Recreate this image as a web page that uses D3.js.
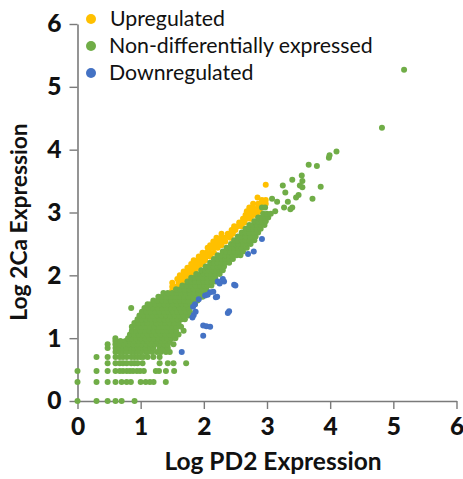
<!DOCTYPE html>
<html><head><meta charset="utf-8">
<script src="https://cdn.jsdelivr.net/npm/d3@7"></script>
<style>html,body{margin:0;padding:0;background:#fff}svg{display:block}text{font-family:Lato,"Open Sans",sans-serif;fill:#111}</style>
</head><body><svg id="c" width="463" height="479"></svg>
<script>
const tickValues=[0,1,2,3,4,5,6];
const legendLabels=["Upregulated","Non-differentially expressed","Downregulated"];
const seriesColors=["#ffc000","#70ad47","#4472c4"];
const xTitle="Log PD2 Expression", yTitle="Log 2Ca Expression";
// rows: [y, x, x, x...]
const upRows=[
[1.76,1.5,1.56,1.62],[1.82,1.5,1.56,1.62,1.68],[1.88,1.5,1.6,1.66,1.72],[1.94,1.58,1.64,1.7,1.76],
[2.0,1.62,1.68,1.74,1.8],[2.06,1.68,1.74,1.8,1.86],[2.12,1.74,1.8,1.86,1.92],[2.18,1.8,1.86,1.92,1.98],
[2.24,1.84,1.9,1.96,2.02],[2.3,1.92,1.98,2.04,2.1],[2.36,1.98,2.04,2.1,2.16],[2.44,2.06,2.1,2.16,2.22],
[2.48,2.1,2.16,2.22,2.28],[2.54,2.15,2.22,2.28,2.34],[2.6,2.2,2.27,2.34,2.42],[2.66,2.28,2.38,2.46],
[2.72,2.44,2.5],[2.78,2.48,2.54,2.6],[2.84,2.56,2.64],[2.9,2.62,2.68,2.74],[2.96,2.66,2.72,2.78,2.84],
[3.02,2.68,2.74,2.8,2.88],[3.08,2.72,2.78,2.86,2.92],[3.14,2.78,2.86,2.92,2.98],[3.2,2.92,2.98],[3.24,2.85],[3.44,2.98]
];
const greenRows=[
[0,0,.301,.477,.602,.699,.903],
[.301,0,.301,.477,.602,.699,.778,.845,1,1.079,1.146,1.204,1.398],
[.477,0,.301,.477,.602,.67,.72,.78,.83,.88,.94,.99,1.05,1.24,1.29,1.4,1.53],
[.602,.477,.602,.67,.72,.78,.85,.9,.95,1.03,1.3,1.43,1.52,1.72],
[.699,.301,.477,.602,.67,.72,.78,.85,.9,.95,1,1.04,1.11,1.2,1.3],
[.778,.602,.67,.72,.78,.85,.9,.95,1,1.08,1.11,1.18,1.26,1.32,1.4,1.46],
[.845,.477,.602,.67,.72,.78,.85,.9,.95,1,1.04,1.08,1.15,1.2,1.3,1.36,1.43],
[.903,.477,.6,.67,.74,.81,.88,.95,1.02,1.09,1.16,1.23,1.3,1.37,1.43,1.52],
[.954,.6,.68,.76,.83,.9,.97,1.04,1.11,1.18,1.25,1.32,1.39,1.46],
[1.0,.6,.8,.86,.93,1,1.07,1.14,1.21,1.28,1.35,1.42,1.49,1.55],
[1.06,.83,.9,.97,1.04,1.11,1.18,1.25,1.32,1.39,1.46,1.54,1.6],
[1.12,.86,.93,1,1.07,1.14,1.21,1.28,1.35,1.42,1.49,1.56,1.68],
[1.18,.86,.94,1.01,1.08,1.15,1.22,1.29,1.36,1.43,1.5,1.57,1.64],
[1.24,.9,.97,1.04,1.11,1.18,1.25,1.32,1.39,1.46,1.53,1.6],
[1.3,.95,1.02,1.09,1.16,1.23,1.3,1.37,1.44,1.51,1.58,1.65,1.7],
[1.36,.98,1.05,1.12,1.19,1.26,1.33,1.4,1.47,1.54,1.61,1.68,1.75],
[1.42,1.02,1.09,1.16,1.23,1.3,1.37,1.44,1.51,1.58,1.65,1.72,1.78],
[1.48,.85,1.06,1.13,1.2,1.27,1.34,1.41,1.48,1.55,1.62,1.69,1.76],
[1.54,1.11,1.16,1.23,1.3,1.37,1.44,1.51,1.58,1.65,1.72,1.79,1.86],
[1.6,1.2,1.27,1.34,1.41,1.48,1.55,1.62,1.69,1.76,1.83,1.9],
[1.66,1.28,1.34,1.41,1.48,1.55,1.62,1.69,1.76,1.83,1.9,1.98],
[1.72,1.36,1.43,1.5,1.57,1.64,1.71,1.78,1.85,1.92,1.99],
[1.78,1.56,1.63,1.7,1.77,1.84,1.91,1.98,2.04],
[1.84,1.66,1.73,1.8,1.87,1.94,2.01,2.06,2.12],
[1.9,1.74,1.8,1.86,1.93,2.0,2.06,2.12,2.18],
[1.96,1.8,1.86,1.92,1.99,2.06,2.12,2.18],
[2.02,1.88,1.94,2.0,2.06,2.12,2.19,2.25],
[2.08,1.96,2.02,2.08,2.14,2.2,2.25,2.3],
[2.14,2.03,2.09,2.15,2.21,2.27,2.32],
[2.2,2.1,2.16,2.22,2.28,2.34,2.4],
[2.26,2.16,2.22,2.28,2.34,2.4,2.46],
[2.32,2.22,2.28,2.34,2.4,2.46,2.52,2.58],
[2.38,2.3,2.36,2.42,2.48,2.55,2.62],
[2.44,2.36,2.42,2.48,2.54,2.6,2.68],
[2.5,2.43,2.49,2.55,2.62,2.68,2.74],
[2.56,2.48,2.54,2.6,2.66,2.72,2.8],
[2.62,2.54,2.6,2.66,2.74,2.82],
[2.68,2.6,2.66,2.72,2.78,2.86],
[2.74,2.66,2.72,2.78,2.84,2.9],
[2.8,2.72,2.78,2.84,2.9,2.96],
[2.86,2.8,2.86,2.92,2.98],
[2.92,2.86,2.92,2.98,3.02],
[2.98,2.94,3.0,3.06],
[3.02,3.13],[3.05,3.37],[3.08,2.92,2.97,3.27,3.4],[3.17,3.33,3.16],[3.22,3.72,3.08],[3.24,3.46],[3.28,3.5],[3.32,3.29],
[3.4,3.56],[3.41,3.85],[3.43,3.25,3.52],[3.5,3.56],[3.52,3.4],[3.59,3.55],[3.74,3.79],[3.76,3.66],[3.87,3.98],[3.91,3.99],[3.97,4.1],
[4.35,4.82],[5.27,5.17]
];
const downX=[1.65,1.99,1.99,2.04,2.1,2.4,2.38,1.86,1.83,1.87,1.84,1.82,1.92,2.02,2.1,2.19,2.22,2.3,2.48,2.92,2.79,2.7,2.32,2.25,2.5,2.15,2.06,2.21];
const downY=[.78,1.04,1.2,1.19,1.18,1.43,1.4,1.54,1.5,1.42,1.37,1.33,1.62,1.68,1.73,1.65,1.9,1.94,1.85,2.58,2.38,2.34,1.9,1.87,1.84,1.74,1.69,1.66];

const flat=rows=>rows.flatMap(r=>r.slice(1).map(x=>[x,r[0]]));
const seriesData=[flat(upRows),flat(greenRows),downX.map((x,i)=>[x,downY[i]])];

const svg=d3.select("#c");
const x=d3.scaleLinear().domain([0,6]).range([77.5,456.5]);
const y=d3.scaleLinear().domain([0,6]).range([401,24]);

function style(g){
  g.selectAll("path").attr("stroke","#7a7a7a").attr("stroke-width",1.6);
  g.selectAll("line").attr("stroke","#7a7a7a").attr("stroke-width",1.4);
  g.selectAll("text").attr("font-size",24.5).attr("font-weight",900).attr("fill","#111");
}
const gx=svg.append("g").attr("transform","translate(0,401)")
  .call(d3.axisBottom(x).tickValues(tickValues).tickFormat(d3.format("d")).tickSize(8).tickPadding(9).tickSizeOuter(0));
style(gx);
const gy=svg.append("g").attr("transform","translate(77.5,0)")
  .call(d3.axisLeft(y).tickValues(tickValues).tickFormat(d3.format("d")).tickSize(8).tickPadding(8).tickSizeOuter(0));
style(gy);

seriesData.forEach((pts,i)=>{
  svg.append("g").selectAll("circle").data(pts).join("circle")
    .attr("cx",d=>x(d[0])).attr("cy",d=>y(d[1])).attr("r",3).attr("fill",seriesColors[i]);
});

const legendY=d3.scalePoint().domain(legendLabels).range([19,73]);
const lg=svg.append("g");
lg.selectAll("circle").data(legendLabels).join("circle")
  .attr("cx",91).attr("cy",d=>legendY(d)).attr("r",5).attr("fill",(d,i)=>seriesColors[i]);
lg.selectAll("text").data(legendLabels).join("text")
  .attr("x",(d,i)=>i==0?110:109).attr("y",d=>legendY(d)+6.5).attr("font-size",21.3).text(d=>d);

svg.append("text").attr("x",273).attr("y",470).attr("text-anchor","middle").attr("font-size",24.5).attr("font-weight",700).text(xTitle);
svg.append("text").attr("transform","translate(27,222) rotate(-90)").attr("text-anchor","middle").attr("font-size",22.8).attr("font-weight",700).text(yTitle);
</script></body></html>
